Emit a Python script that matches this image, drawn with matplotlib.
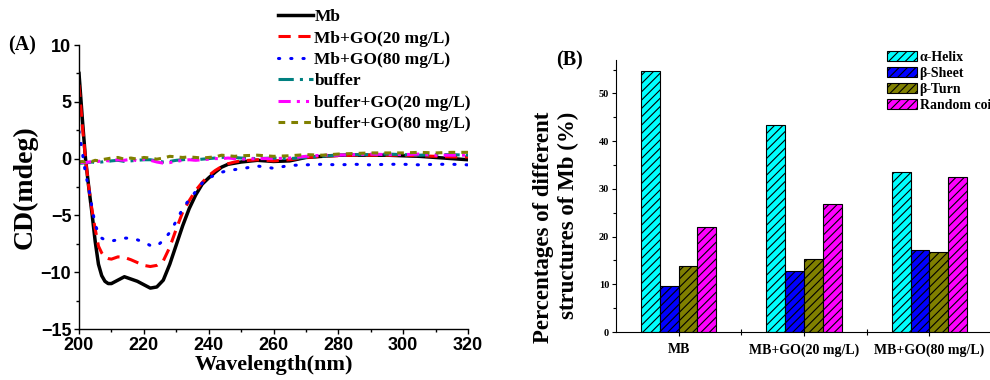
from matplotlib import pyplot as plt
from matplotlib import rcParams
from matplotlib.ticker import MultipleLocator, FixedLocator
import numpy as np

rcParams["font.family"] = ["Liberation Serif", "DejaVu Serif"]
rcParams["font.weight"] = "bold"
rcParams["axes.labelweight"] = "bold"
rcParams["hatch.linewidth"] = 0.8

# ---- panel A data (CD spectra) ----
wavelength = [200, 201, 202, 203, 204, 205, 206, 207, 208, 209, 210, 212, 214, 216, 218,
              220, 222, 224, 226, 228, 230, 232, 234, 236, 238, 240, 242, 244, 246, 248,
              250, 255, 260, 265, 270, 275, 280, 285, 290, 295, 300, 305, 310, 315, 320]
cd_mb = [7.5, 3.6, 0.0, -2.5, -4.8, -7.3, -9.3, -10.3, -10.8, -11.0, -11.0, -10.7, -10.4, -10.6, -10.8,
         -11.1, -11.4, -11.3, -10.7, -9.3, -7.6, -5.9, -4.4, -3.2, -2.25, -1.7, -1.2, -0.75, -0.5, -0.4,
         -0.3, -0.15, -0.25, -0.2, 0.1, 0.2, 0.3, 0.3, 0.3, 0.3, 0.25, 0.2, 0.1, 0.0, -0.1]
cd_go20 = [6.5, 3.0, 0.0, -2.5, -4.5, -6.2, -7.7, -8.3, -8.7, -8.8, -8.85, -8.65, -8.7, -8.9, -9.15,
           -9.4, -9.5, -9.4, -9.0, -7.8, -6.2, -4.7, -3.7, -2.8, -2.1, -1.5, -1.05, -0.7, -0.45, -0.3,
           -0.2, -0.1, -0.2, -0.1, 0.1, 0.2, 0.25, 0.3, 0.3, 0.3, 0.3, 0.25, 0.2, 0.15, 0.15]
cd_go80 = [2.4, 0.6, -1.3, -2.6, -4.3, -5.8, -6.6, -7.0, -7.15, -7.2, -7.25, -7.15, -7.0, -7.0, -7.15,
           -7.35, -7.65, -7.7, -7.2, -6.5, -5.5, -4.4, -3.6, -2.9, -2.15, -1.7, -1.45, -1.2, -1.05, -0.97,
           -0.9, -0.65, -0.85, -0.6, -0.55, -0.5, -0.55, -0.5, -0.55, -0.5, -0.5, -0.55, -0.5, -0.5, -0.55]
cd_buf = [-0.4, -0.4, -0.35, -0.35, -0.3, -0.35, -0.3, -0.3, -0.25, -0.25, -0.2, -0.15, -0.25, -0.2, -0.15,
          -0.1, -0.1, -0.2, -0.3, -0.25, -0.15, -0.1, -0.05, -0.1, -0.05, 0.0, 0.05, 0.1, 0.15, 0.1,
          0.05, 0.0, 0.05, 0.0, 0.1, 0.2, 0.3, 0.35, 0.35, 0.4, 0.35, 0.3, 0.35, 0.35, 0.3]
cd_buf20 = [-0.3, -0.35, -0.35, -0.3, -0.3, -0.25, -0.25, -0.2, -0.15, -0.2, -0.2, -0.1, -0.15, -0.05, -0.2,
            -0.05, -0.15, -0.3, -0.4, -0.35, -0.25, -0.15, -0.1, -0.15, -0.1, -0.05, 0.0, 0.0, 0.05, 0.0,
            -0.05, 0.0, 0.0, 0.05, 0.2, 0.3, 0.3, 0.35, 0.4, 0.35, 0.35, 0.4, 0.3, 0.3, 0.3]
cd_buf80 = [-0.3, -0.25, -0.3, -0.2, -0.25, -0.15, -0.2, -0.1, -0.05, 0.0, 0.05, 0.1, -0.05, 0.05, -0.05,
            0.1, 0.05, -0.05, 0.05, 0.2, 0.15, 0.1, 0.15, 0.1, 0.05, 0.1, 0.15, 0.3, 0.25, 0.2,
            0.25, 0.3, 0.2, 0.25, 0.35, 0.3, 0.4, 0.45, 0.5, 0.5, 0.5, 0.55, 0.5, 0.55, 0.55]

# ---- panel B data (secondary structure) ----
samples = ['MB', 'MB+GO(20 mg/L)', 'MB+GO(80 mg/L)']
structures = ['α-Helix', 'β-Sheet', 'β-Turn', 'Random coil']
helix = [54.7, 43.4, 33.5]
sheet = [9.6, 12.7, 17.1]
turn = [13.8, 15.2, 16.7]
coil = [22.0, 26.8, 32.5]

fig = plt.figure(figsize=(9.9, 3.8), dpi=100)

# ================= (A) =================
ax = fig.add_axes([79/990, 1-329/380, 389/990, 284/380])
lw = 2.2
ax.plot(wavelength, cd_mb, color='black', lw=2.5, label='Mb')
ax.plot(wavelength, cd_go20, color='red', lw=lw, dashes=(4, 2.5), label='Mb+GO(20 mg/L)')
ax.plot(wavelength, cd_go80, color='blue', lw=lw, dashes=(0.4, 3.6), dash_capstyle='round',
        label='Mb+GO(80 mg/L)')
ax.plot(wavelength, cd_buf, color='#008080', lw=lw, dashes=(5, 2, 1, 2), label='buffer')
ax.plot(wavelength, cd_buf20, color='#FF00FF', lw=lw, dashes=(4, 2, 1, 2, 1, 2), label='buffer+GO(20 mg/L)')
ax.plot(wavelength, cd_buf80, color='#808000', lw=lw, dashes=(2.2, 2), label='buffer+GO(80 mg/L)')

ax.set_xlim(200, 320)
ax.set_ylim(-15, 10)
ax.xaxis.set_major_locator(MultipleLocator(20))
ax.xaxis.set_minor_locator(MultipleLocator(10))
ax.yaxis.set_major_locator(MultipleLocator(5))
ax.yaxis.set_minor_locator(MultipleLocator(2.5))
for axis in ['top', 'right']:
    ax.spines[axis].set_visible(False)
for axis in ['bottom', 'left']:
    ax.spines[axis].set_linewidth(1.0)
ax.tick_params(which='major', direction='out', length=3.5, width=1.0, labelsize=13, pad=2)
ax.tick_params(which='minor', direction='out', length=2.2, width=1.0)
for lab in ax.get_xticklabels() + ax.get_yticklabels():
    lab.set_fontfamily('Liberation Sans')
    lab.set_fontweight('bold')
ax.set_xlabel('Wavelength(nm)', fontsize=16, fontweight='bold', labelpad=1)
ax.set_ylabel('CD(mdeg)', fontsize=20, fontweight='bold', labelpad=2)

ax.legend(loc='upper left', bbox_to_anchor=(278/990, 1-9/380), bbox_transform=fig.transFigure,
          frameon=False, fontsize=12.5, handlelength=2.0, handletextpad=0.1, labelspacing=0.3,
          borderpad=0, borderaxespad=0)
fig.text(8/990, 1-45/380, '(A)', fontsize=14.5, fontweight='bold', va='center', ha='left')

# ================= (B) =================
bx = fig.add_axes([616/990, 1-332/380, 376/990, 272/380])
x = np.arange(len(samples))
w = 0.15
bx.bar(x-1.5*w, helix, w, color='#00FFFF', edgecolor='black', lw=0.8, hatch='////', label=structures[0])
bx.bar(x-0.5*w, sheet, w, color='#0000FF', edgecolor='black', lw=0.8, hatch='////', label=structures[1])
bx.bar(x+0.5*w, turn, w, color='#808000', edgecolor='black', lw=0.8, hatch='////', label=structures[2])
bx.bar(x+1.5*w, coil, w, color='#FF00FF', edgecolor='black', lw=0.8, hatch='////', label=structures[3])

bx.set_xlim(-0.5, 2.5)
bx.set_ylim(0, 57)
bx.set_xticks(x)
bx.set_xticklabels(samples, fontsize=10)
bx.xaxis.set_minor_locator(FixedLocator([0.5, 1.5]))
bx.yaxis.set_major_locator(MultipleLocator(10))
bx.yaxis.set_minor_locator(MultipleLocator(5))
for axis in ['top', 'right']:
    bx.spines[axis].set_visible(False)
bx.tick_params(axis='y', which='major', direction='out', length=3, width=0.8, labelsize=7.5, pad=2)
bx.tick_params(axis='y', which='minor', direction='out', length=2, width=0.8)
bx.tick_params(axis='x', which='major', direction='out', length=3, width=0.8, pad=5)
bx.tick_params(axis='x', which='minor', direction='inout', length=5, width=0.8)

fig.text(556/990, 1-227/380, 'Percentages of different\nstructures of Mb (%)', fontsize=16.5,
         fontweight='bold', rotation=90, ha='center', va='center', multialignment='right',
         linespacing=1.2)
fig.text(556/990, 1-60/380, '(B)', fontsize=14.5, fontweight='bold', va='center', ha='left')

bx.legend(loc='upper left', bbox_to_anchor=(887/990, 1-51/380), bbox_transform=fig.transFigure,
          frameon=False, fontsize=10, handlelength=2.15, handleheight=0.72, handletextpad=0.2,
          labelspacing=0.22, borderpad=0, borderaxespad=0)

fig.savefig('out.png', dpi=100)
